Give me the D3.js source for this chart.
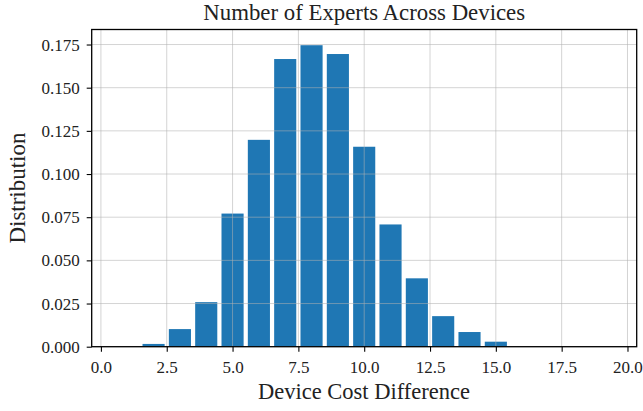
<!DOCTYPE html>
<html>
<head>
<meta charset="utf-8">
<script src="https://cdn.jsdelivr.net/npm/d3@7"></script>
<style>
    body { margin: 0; background: #fff; }
    svg { display: block; }
    svg text { font-family: "Liberation Serif", "DejaVu Serif", serif; }
</style>
</head>
<body>
<div id="chart"></div>
<script>
const binCenters = [1, 2, 3, 4, 5, 6, 7, 8, 9, 10, 11, 12, 13, 14, 15, 16, 17, 18, 19];
const distribution = [0.0, 0.0016, 0.0102, 0.0258, 0.0771, 0.1198, 0.1666, 0.1746, 0.1695,
    0.1158, 0.0708, 0.0396, 0.0177, 0.0085, 0.0029, 0.0, 0.0, 0.0, 0.0];
const xTicks = [0, 2.5, 5, 7.5, 10, 12.5, 15, 17.5, 20];
const yTicks = [0, 0.025, 0.05, 0.075, 0.1, 0.125, 0.15, 0.175];

const title = 'Number of Experts Across Devices';
const xLabel = 'Device Cost Difference';
const yLabel = 'Distribution';

document.addEventListener('DOMContentLoaded', () => {
    renderChart();
});

function fitText(sel, targetWidth) {
    const w = sel.node().getComputedTextLength();
    const size = parseFloat(sel.style('font-size'));
    sel.style('font-size', (size * targetWidth / w) + 'px');
}

function renderChart() {
    const width = 643;
    const height = 411;
    const margin = { top: 29.5, right: 6.3, bottom: 64.3, left: 91.7 };
    const innerW = width - margin.left - margin.right;
    const innerH = height - margin.top - margin.bottom;

    const svg = d3.select('#chart')
        .append('svg')
        .attr('width', width)
        .attr('height', height);

    const x = d3.scaleLinear().domain([-0.35, 20.35]).range([0, innerW]);
    const y = d3.scaleLinear().domain([0, 0.1837]).range([innerH, 0]);

    const g = svg.append('g').attr('transform', `translate(${margin.left},${margin.top})`);

    const barWidth = 0.84;
    g.selectAll('rect.bar')
        .data(binCenters.map((c, i) => ({ c, v: distribution[i] })))
        .enter()
        .append('rect')
        .attr('class', 'bar')
        .attr('x', d => x(d.c - barWidth / 2))
        .attr('width', x(barWidth) - x(0))
        .attr('y', d => y(d.v))
        .attr('height', d => innerH - y(d.v))
        .attr('fill', '#1f77b4');

    // grid sits over the bars in the reference
    g.append('g')
        .selectAll('line')
        .data(xTicks)
        .enter()
        .append('line')
        .attr('x1', d => x(d)).attr('x2', d => x(d))
        .attr('y1', 0).attr('y2', innerH)
        .attr('stroke', '#b0b0b0').attr('stroke-opacity', 0.55).attr('stroke-width', 1);

    g.append('g')
        .selectAll('line')
        .data(yTicks)
        .enter()
        .append('line')
        .attr('x1', 0).attr('x2', innerW)
        .attr('y1', d => y(d)).attr('y2', d => y(d))
        .attr('stroke', '#b0b0b0').attr('stroke-opacity', 0.55).attr('stroke-width', 1);

    const xAxis = g.append('g')
        .attr('transform', `translate(0,${innerH})`)
        .call(d3.axisBottom(x).tickValues(xTicks).tickFormat(d3.format('.1f')).tickSize(5).tickSizeOuter(0));
    xAxis.attr('font-family', null).attr('font-size', null);
    xAxis.select('.domain').remove();
    xAxis.selectAll('line').attr('stroke', '#000').attr('stroke-width', 1.1);
    xAxis.selectAll('text')
        .style('font-family', '"Liberation Serif", serif')
        .style('font-size', '17px')
        .attr('fill', '#222')
        .attr('dy', null)
        .attr('y', 26);

    const yAxis = g.append('g')
        .call(d3.axisLeft(y).tickValues(yTicks).tickFormat(d3.format('.3f')).tickSize(5).tickSizeOuter(0));
    yAxis.attr('font-family', null).attr('font-size', null);
    yAxis.select('.domain').remove();
    yAxis.selectAll('line').attr('stroke', '#000').attr('stroke-width', 1.1);
    yAxis.selectAll('text')
        .style('font-family', '"Liberation Serif", serif')
        .style('font-size', '17px')
        .attr('fill', '#222')
        .attr('x', -12)
        .attr('dy', '0.33em');

    // frame
    g.append('rect')
        .attr('x', 0).attr('y', 0)
        .attr('width', innerW).attr('height', innerH)
        .attr('fill', 'none')
        .attr('stroke', '#000')
        .attr('stroke-width', 1.3);

    const t = svg.append('text')
        .attr('x', margin.left + innerW / 2)
        .attr('y', 20)
        .attr('text-anchor', 'middle')
        .style('font-size', '20px')
        .attr('fill', '#222')
        .text(title);
    fitText(t, 322);

    const xl = svg.append('text')
        .attr('x', 364)
        .attr('y', 399)
        .attr('text-anchor', 'middle')
        .style('font-size', '20px')
        .attr('fill', '#222')
        .text(xLabel);
    fitText(xl, 212);

    const yl = svg.append('text')
        .attr('transform', `translate(25,${margin.top + innerH / 2}) rotate(-90)`)
        .attr('text-anchor', 'middle')
        .style('font-size', '20px')
        .attr('fill', '#222')
        .text(yLabel);
    fitText(yl, 111);
}
</script>
</body>
</html>
